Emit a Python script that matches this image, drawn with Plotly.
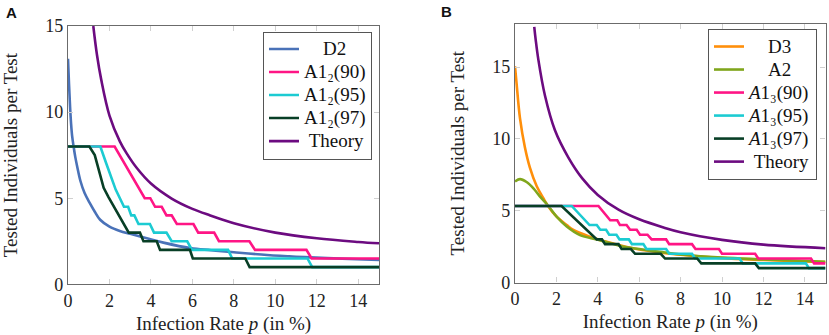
import plotly.graph_objects as go

# ---------------- Panel A data ----------------
a_d2_p = [0, 0.05, 0.1, 0.15, 0.2, 0.27, 0.35, 0.45, 0.6, 0.8, 1.06, 1.3, 1.55, 2.0, 2.5, 3.0, 3.8, 4.6, 5.9, 6.9, 8.0, 9.6, 11.0, 12.5, 15.0]
a_d2_v = [13.1, 11.6, 10.3, 9.3, 8.6, 8.0, 7.4, 6.8, 6.0, 5.3, 4.7, 4.2, 3.75, 3.35, 3.1, 2.93, 2.67, 2.42, 2.1, 1.98, 1.86, 1.70, 1.6, 1.52, 1.41]

a_a90_p = [0, 2.25, 3.7, 3.97, 4.2, 4.52, 4.75, 5.0, 5.25, 6.05, 6.28, 7.05, 7.28, 8.75, 9.02, 11.5, 11.75, 15]
a_a90_v = [8, 8, 5.0, 5.0, 4.5, 4.5, 4.0, 4.0, 3.5, 3.5, 3.0, 3.0, 2.5, 2.5, 2.0, 2.0, 1.5, 1.5]

a_a95_p = [0, 1.56, 1.85, 2.3, 2.7, 2.9, 3.05, 3.2, 3.4, 3.95, 4.15, 4.75, 5.0, 5.75, 5.98, 7.72, 7.92, 11.55, 11.78, 15]
a_a95_v = [8, 8, 7.0, 5.5, 4.5, 4.5, 4.0, 4.0, 3.5, 3.5, 3.0, 3.0, 2.5, 2.5, 2.0, 2.0, 1.5, 1.5, 1.0, 1.0]

a_a97_p = [0, 1.03, 1.29, 1.4, 1.72, 1.96, 2.93, 3.47, 3.64, 4.28, 4.44, 5.88, 6.02, 8.55, 8.76, 15]
a_a97_v = [8, 8, 7.5, 7.0, 5.6, 5.05, 3.0, 3.0, 2.5, 2.5, 2.0, 2.0, 1.5, 1.5, 1.0, 1.0]

a_th_p = [1.22, 1.4, 1.6, 2.0, 2.5, 2.83, 3.3, 4.0, 5.0, 6.0, 6.86, 8.0, 10.0, 12.0, 14.0, 15.0]
a_th_v = [15.0, 13.3, 11.9, 9.8, 8.3, 7.6, 6.78, 5.85, 4.98, 4.38, 4.0, 3.55, 3.0, 2.67, 2.46, 2.38]

# ---------------- Panel B data ----------------
b_d3_p = [0, 0.08, 0.24, 0.48, 0.72, 1.05, 1.37, 1.61, 2.0, 2.5, 2.82, 3.62, 4.43, 5.4, 6.0, 7.0, 8.0, 10.0, 12.0, 15.0]
b_d3_v = [15.05, 13.8, 11.45, 9.4, 8.0, 6.7, 5.87, 5.3, 4.6, 4.0, 3.66, 3.19, 2.83, 2.47, 2.3, 2.1, 1.93, 1.7, 1.57, 1.42]

b_a2_p = [0, 0.24, 0.56, 0.89, 1.21, 1.61, 2.0, 2.5, 3.14, 3.95, 4.43, 5.4, 6.0, 7.0, 8.0, 10.0, 12.0, 15.0]
b_a2_v = [7.03, 7.2, 7.0, 6.56, 5.98, 5.33, 4.6, 3.9, 3.3, 3.0, 2.8, 2.45, 2.33, 2.13, 1.95, 1.73, 1.61, 1.45]

b_a90_p = [0, 4.03, 4.6, 4.94, 5.07, 5.39, 5.56, 5.88, 6.04, 6.4, 6.6, 7.3, 7.45, 8.55, 8.72, 9.85, 10.0, 11.6, 11.75, 14.3, 14.45, 15]
b_a90_v = [5.33, 5.33, 4.33, 4.33, 4.0, 4.0, 3.67, 3.67, 3.33, 3.33, 3.0, 3.0, 2.67, 2.67, 2.33, 2.33, 2.0, 2.0, 1.67, 1.67, 1.33, 1.33]

b_a95_p = [0, 2.74, 3.6, 3.95, 4.12, 4.4, 4.55, 4.9, 5.05, 5.5, 5.65, 6.2, 6.35, 7.3, 7.45, 8.55, 8.7, 10.85, 11.0, 14.05, 14.2, 15]
b_a95_v = [5.33, 5.33, 4.0, 4.0, 3.67, 3.67, 3.33, 3.33, 3.0, 3.0, 2.67, 2.67, 2.33, 2.33, 2.0, 2.0, 1.67, 1.67, 1.33, 1.33, 1.0, 1.0]

b_a97_p = [0, 2.25, 3.95, 4.2, 4.35, 5.0, 5.15, 5.6, 5.8, 7.04, 7.25, 8.8, 9.0, 11.6, 11.78, 15]
b_a97_v = [5.33, 5.33, 3.0, 3.0, 2.67, 2.67, 2.33, 2.33, 2.0, 2.0, 1.67, 1.67, 1.33, 1.33, 1.0, 1.0]

b_th_p = [0.93, 1.0, 1.13, 1.45, 1.93, 2.58, 3.25, 4.0, 5.0, 6.0, 7.25, 8.0, 10.0, 12.0, 15.0]
b_th_v = [17.8, 16.9, 15.5, 13.0, 10.6, 8.7, 7.25, 6.1, 5.07, 4.4, 3.8, 3.5, 2.97, 2.64, 2.39]

x_ticks = [0, 2, 4, 6, 8, 10, 12, 14]
y_ticks = [0, 5, 10, 15]

C_BLUE = "#4a72b8"
C_PINK = "#ff1585"
C_CYAN = "#1ccbd2"
C_DKGREEN = "#083f26"
C_PURPLE = "#6c0b80"
C_ORANGE = "#ff8f0a"
C_OLIVE = "#80a61c"

NB = "\u00a0"
LW = 2.6

W, H = 829, 335
ML, MR, MT, MB = 40, 2, 20, 40
PW, PH = W - ML - MR, H - MT - MB

def fx(px):
    return (px - ML) / PW

def fy(py):
    return (H - MB - py) / PH

def big(s):
    return '<span style="font-size:19px">' + s + '</span>'

fig = go.Figure()

def add(p, v, name, color, xa, ya, leg, shape="linear"):
    line = dict(color=color, width=LW, shape=shape)
    if shape == "spline":
        line["smoothing"] = 1.0
    fig.add_trace(go.Scatter(x=p, y=v, mode="lines", name=big(name), line=line,
                             xaxis=xa, yaxis=ya, legend=leg, hoverinfo="skip"))

add(a_d2_p, a_d2_v, NB * 4 + "D2", C_BLUE, "x", "y", "legend", "spline")
add(a_a90_p, a_a90_v, "A1\u2082(90)", C_PINK, "x", "y", "legend")
add(a_a95_p, a_a95_v, "A1\u2082(95)", C_CYAN, "x", "y", "legend")
add(a_a97_p, a_a97_v, "A1\u2082(97)", C_DKGREEN, "x", "y", "legend")
add(a_th_p, a_th_v, NB + "Theory", C_PURPLE, "x", "y", "legend", "spline")

add(b_d3_p, b_d3_v, NB * 4 + "D3", C_ORANGE, "x2", "y2", "legend2", "spline")
add(b_a2_p, b_a2_v, NB * 4 + "A2", C_OLIVE, "x2", "y2", "legend2", "spline")
add(b_a90_p, b_a90_v, "<i>A</i>1\u2083(90)", C_PINK, "x2", "y2", "legend2")
add(b_a95_p, b_a95_v, "<i>A</i>1\u2083(95)", C_CYAN, "x2", "y2", "legend2")
add(b_a97_p, b_a97_v, "<i>A</i>1\u2083(97)", C_DKGREEN, "x2", "y2", "legend2")
add(b_th_p, b_th_v, NB + "Theory", C_PURPLE, "x2", "y2", "legend2", "spline")

SERIF = "Liberation Serif"
SANS = "Liberation Sans"

def xax(dom, anchor):
    return dict(domain=dom, anchor=anchor, range=[0, 15], tickvals=x_ticks,
                automargin=False,
                showgrid=False, zeroline=False, showline=True, linecolor="#6b6b6b",
                linewidth=1.2, mirror="ticks", ticks="inside", ticklen=5,
                tickcolor="#d0d0d0", tickwidth=1,
                tickfont=dict(family=SERIF, size=18, color="#222"),
                title=dict(text="Infection Rate <i>p</i> (in %)",
                           font=dict(family=SERIF, size=19, color="#222"), standoff=6))

def yax(dom, anchor, rng):
    return dict(domain=dom, anchor=anchor, range=rng, tickvals=y_ticks,
                automargin=False,
                showgrid=False, zeroline=False, showline=True, linecolor="#6b6b6b",
                linewidth=1.2, mirror="ticks", ticks="inside", ticklen=5,
                tickcolor="#d0d0d0", tickwidth=1,
                tickfont=dict(family=SERIF, size=18, color="#222"),
                title=dict(text="Tested Individuals per Test",
                           font=dict(family=SERIF, size=19, color="#222"), standoff=22))

LEG_FONT = dict(family=SERIF, size=15.4, color="#111")

fig.update_layout(
    template="none",
    width=W, height=H, autosize=False,
    margin=dict(l=ML, r=MR, t=MT, b=MB, pad=0),
    paper_bgcolor="white", plot_bgcolor="white",
    xaxis=xax([fx(68), fx(379)], "y"),
    yaxis=yax([fy(284.3), fy(26)], "x", [0, 15]),
    xaxis2=xax([fx(515), fx(825.5)], "y2"),
    yaxis2=yax([fy(282.5), fy(24)], "x2", [0, 18]),
    legend=dict(x=fx(263), y=fy(31.5), xanchor="left", yanchor="top",
                bgcolor="white", bordercolor="#555", borderwidth=1,
                font=LEG_FONT, itemwidth=30, tracegroupgap=0),
    legend2=dict(x=fx(708), y=fy(29), xanchor="left", yanchor="top",
                 bgcolor="white", bordercolor="#555", borderwidth=1,
                 font=LEG_FONT, itemwidth=30, tracegroupgap=0),
    showlegend=True,
    annotations=[
        dict(text="<b>A</b>", x=fx(4), y=fy(12), xref="paper", yref="paper",
             xanchor="left", yanchor="middle", showarrow=False,
             font=dict(family=SANS, size=15, color="#111")),
        dict(text="<b>B</b>", x=fx(439), y=fy(11), xref="paper", yref="paper",
             xanchor="left", yanchor="middle", showarrow=False,
             font=dict(family=SANS, size=15, color="#111")),
    ],
)

fig.write_html("out.html", config={"displayModeBar": False},
               post_script="document.body.style.margin='0';")
